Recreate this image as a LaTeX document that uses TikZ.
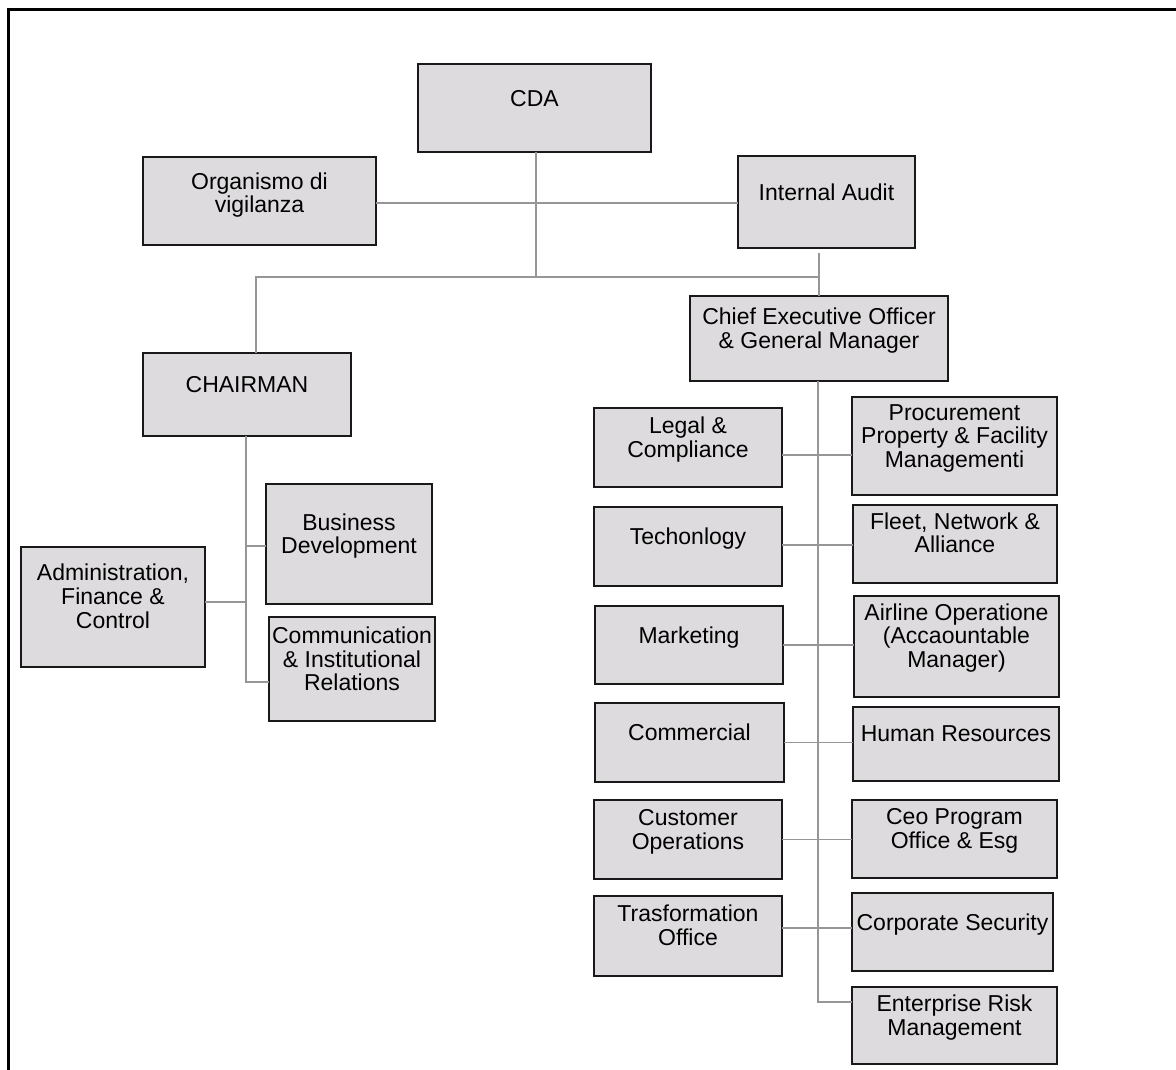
\documentclass[tikz,border=0pt]{standalone}
\usepackage{fontspec}
\setmainfont{Liberation Sans}
\usetikzlibrary{calc}
\definecolor{boxfill}{RGB}{221,219,221}
\definecolor{boxline}{RGB}{25,25,25}
\definecolor{linkc}{RGB}{150,150,150}
\tikzset{
  obox/.style={draw=boxline, fill=boxfill, line width=1.6pt, inner sep=0pt, outer sep=0pt},
  otext/.style={align=center, inner sep=0pt, anchor=north, font=\fontsize{23}{23.7}\selectfont, text=black},
  conn/.style={draw=linkc, line width=1.3pt},
  frameline/.style={draw=black, line width=3pt}
}
% name, x1, y1, x2, y2, first baseline, text
\newcommand\orgbox[7]{%
  \node[obox, minimum width={(#4)-(#2)}, minimum height={(#5)-(#3)}] (#1) at ({((#2)+(#4))/2},{((#3)+(#5))/2}) {};
  \node[otext] (#1-t) at ({((#2)+(#4))/2},{(#6)-16.6}) {#7};}
\begin{document}
\begin{tikzpicture}[x=1pt, y=-1pt]
\useasboundingbox (0,0) rectangle (1176,1069);
\fill[white] (0,0) rectangle (1176,1069);
% outer frame
\draw[frameline] (8,1080) -- (8,9) -- (1190,9);

% connectors first (boxes drawn over them)
\coordinate (hbar) at (0,277);
\coordinate (vline) at (0,203);

% boxes
\orgbox{cda}{418}{64}{651}{152}{107}{CDA}
\orgbox{org}{143}{157}{376}{245}{189}{Organismo di\\vigilanza}
\orgbox{ia}{738}{156}{915}{248}{200}{Internal Audit}
\orgbox{ceo}{690}{296}{948}{381}{324.5}{Chief Executive Officer\\\& General Manager}
\orgbox{chair}{143}{353}{351}{436}{393}{CHAIRMAN}
\orgbox{bd}{266}{484}{432}{604}{530}{Business\\Development}
\orgbox{afc}{21}{547}{205}{667}{580.5}{Administration,\\Finance \&\\Control}
\orgbox{cir}{269}{617}{435}{721}{643.3}{Communication\\\& Institutional\\Relations}
\orgbox{legal}{594}{408}{782}{487}{433.3}{Legal \&\\Compliance}
\orgbox{proc}{852}{397}{1057}{495}{420.7}{Procurement\\Property \& Facility\\Managementi}
\orgbox{tech}{594}{507}{782}{586}{544.3}{Techonlogy}
\orgbox{fleet}{853}{505}{1057}{583}{529}{Fleet, Network \&\\Alliance}
\orgbox{mkt}{595}{606}{783}{684}{643.3}{Marketing}
\orgbox{air}{854}{596}{1059}{697}{620}{Airline Operatione\\(Accaountable\\Manager)}
\orgbox{comm}{595}{703}{784}{782}{740.7}{Commercial}
\orgbox{hr}{853}{707}{1059}{781}{741.7}{Human Resources}
\orgbox{cust}{594}{800}{782}{879}{825.7}{Customer\\Operations}
\orgbox{ceop}{852}{800}{1057}{878}{825}{Ceo Program\\Office \& Esg}
\orgbox{trasf}{594}{896}{782}{976}{921.7}{Trasformation\\Office}
\orgbox{csec}{852}{893}{1053}{971}{930.7}{Corporate Security}
\orgbox{erm}{852}{987}{1057}{1064}{1011.7}{Enterprise Risk\\Management}

\begin{scope}[on background layer/.style={}]
% top level
\draw[conn] ([xshift=1.5pt]cda.south) -- ([xshift=1.5pt]cda.south |- hbar);
\draw[conn] (org.east |- vline) -- (ia.west |- vline);
\draw[conn] ([xshift=9pt]chair.north) |- (ceo.north |- hbar);
\draw[conn] ([yshift=-5pt]ia.south -| ceo.north) -- (ceo.north);
% chairman tree
\draw[conn] ([xshift=-1pt]chair.south) |- ([yshift=-13pt]cir.west);
\draw[conn] ([yshift=-2pt]bd.west) -| ([xshift=-1pt]chair.south);
\draw[conn] ([yshift=5pt]afc.east) -| ([xshift=-1pt]chair.south);
% ceo tree
\draw[conn] ([xshift=-1pt]ceo.south) |- ([yshift=23.5pt]erm.west);
\coordinate (r1) at ([yshift=-7.5pt]legal.east);
\coordinate (r2) at ([yshift=1.5pt]tech.east);
\coordinate (r3) at (mkt.east);
\coordinate (r4) at (comm.east);
\coordinate (r5) at (cust.east);
\coordinate (r6) at ([yshift=8pt]trasf.east);
\draw[conn] (r1) -- (r1 -| proc.west);
\draw[conn] (r2) -- (r2 -| fleet.west);
\draw[conn] (r3) -- (r3 -| air.west);
\draw[conn] (r4) -- (r4 -| hr.west);
\draw[conn] (r5) -- (r5 -| ceop.west);
\draw[conn] (r6) -- (r6 -| csec.west);
\end{scope}
\end{tikzpicture}
\end{document}
